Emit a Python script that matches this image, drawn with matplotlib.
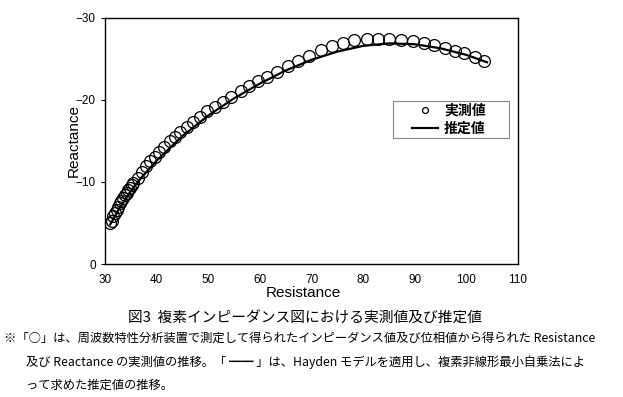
import matplotlib.pyplot as plt
import numpy as np
from matplotlib.patches import Rectangle

plt.rcParams['font.family'] = ['Liberation Sans', 'Noto Sans CJK JP']

# measured values (circles)
meas_r = [31.0, 31.3, 31.6, 32.0, 32.3, 32.6, 32.9, 33.2, 33.5, 33.9, 34.2, 34.5, 34.8, 35.2,
          35.5, 36.3, 37.1, 37.9, 38.7, 39.7, 40.5, 41.5, 42.5, 43.5, 44.6, 45.8, 47.1,
          48.4, 49.8, 51.3, 52.9, 54.5, 56.3, 57.9, 59.7, 61.4, 63.4, 65.4, 67.4, 69.5,
          71.8, 73.9, 76.1, 78.3, 80.7, 82.9, 85.1, 87.3, 89.6, 91.7, 93.8, 95.9, 97.8,
          99.6, 101.6, 103.4]
meas_x = [-5.0, -5.2, -5.8, -6.2, -6.6, -7.0, -7.4, -7.7, -8.0, -8.4, -8.7, -9.0, -9.3, -9.6,
          -9.9, -10.5, -11.2, -11.9, -12.5, -13.1, -13.7, -14.3, -15.0, -15.5, -16.1, -16.7, -17.3,
          -17.9, -18.6, -19.2, -19.8, -20.4, -21.1, -21.7, -22.3, -22.8, -23.4, -24.1, -24.7, -25.4,
          -26.1, -26.6, -27.0, -27.3, -27.4, -27.4, -27.4, -27.3, -27.2, -26.9, -26.7, -26.3, -26.0,
          -25.7, -25.3, -24.8]

# estimated values (line)
est_r = [31.0, 32.0, 33.0, 35.0, 37.0, 40.0, 45.0, 50.0, 55.0, 60.0, 65.0, 70.0, 75.0,
         80.0, 85.0, 90.0, 95.0, 100.0, 104.0]
est_x = [-4.8, -5.9, -7.0, -8.9, -10.5, -12.6, -15.6, -18.1, -20.2, -22.0, -23.6, -24.9, -25.9,
         -26.6, -26.9, -26.8, -26.3, -25.5, -24.6]

fig = plt.figure(figsize=(6.23, 3.97), dpi=100)
ax = fig.add_axes([0.1685, 0.335, 0.663, 0.6197])

ax.plot(meas_r, meas_x, 'o', mfc='none', mec='black', ms=8.5, mew=0.9, label='実測値')
ax.plot(est_r, est_x, '-', color='black', lw=1.6, label='推定値')

ax.set_xlim(30, 110)
ax.set_ylim(0, -30)
ax.set_xticks(np.arange(30, 111, 10))
ax.set_yticks([0, -10, -20, -30])
ax.tick_params(labelsize=8.5, length=3, direction='out')
ax.tick_params(axis='x', length=0, pad=7)
ax.set_xlabel('Resistance', fontsize=11, labelpad=1)
ax.xaxis.set_label_coords(0.48, -0.09)
ax.set_ylabel('Reactance', fontsize=11)
ax.yaxis.set_label_coords(-0.058, 0.5)
for s in ax.spines.values():
    s.set_linewidth(1.0)

# legend box drawn separately so the padding can be wider than tall
ax.add_patch(Rectangle((0.697, 0.512), 0.281, 0.151, transform=ax.transAxes,
                       fill=False, edgecolor='#888888', lw=0.8, zorder=5))
leg = ax.legend(loc='center', bbox_to_anchor=(0.832, 0.587), frameon=False,
                handlelength=1.9, handletextpad=0.45, borderpad=0, borderaxespad=0,
                labelspacing=0.3, markerscale=0.5,
                prop={'family': ['Noto Sans CJK JP'], 'size': 10, 'weight': 'bold'})

jp = ['Noto Sans CJK JP']
fig.text(0.49, 0.198, '図3  複素インピーダンス図における実測値及び推定値', ha='center', va='center',
         fontsize=10.6, family=jp)
fig.text(0.006, 0.147, '※「○」は、周波数特性分析装置で測定して得られたインピーダンス値及び位相値から得られた Resistance',
         ha='left', va='center', fontsize=8.85, family=jp)
fig.text(0.042, 0.088, '及び Reactance の実測値の推移。「 ━━ 」は、Hayden モデルを適用し、複素非線形最小自乗法によ',
         ha='left', va='center', fontsize=8.85, family=jp)
fig.text(0.042, 0.030, 'って求めた推定値の推移。', ha='left', va='center', fontsize=8.85, family=jp)

fig.savefig('out.png', dpi=100)
